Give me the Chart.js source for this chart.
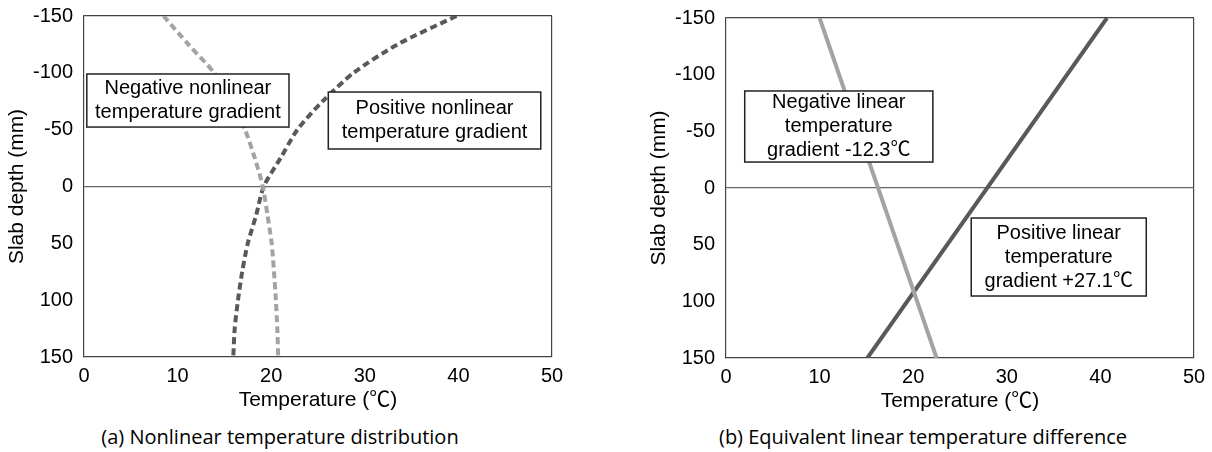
<!DOCTYPE html>
<html>
<head>
<meta charset="utf-8">
<script src="https://cdn.jsdelivr.net/npm/chart.js@4/dist/chart.umd.min.js"></script>
<style>
  body { margin: 0; background: #fff; }
  #wrap { position: relative; width: 1212px; height: 452px; overflow: hidden; }
  #leftBox { position: absolute; left: 0; top: 0; width: 600px; height: 420px; }
  #rightBox { position: absolute; left: 600px; top: 0; width: 612px; height: 421px; }
  .caption { position: absolute; top: 423px; font: 20px 'Open Sans', 'Noto Sans', sans-serif; color: #000; white-space: nowrap; transform: translateX(-50%); }
</style>
</head>
<body>
<div id="wrap">
  <div id="leftBox"><canvas id="nonlinearChart"></canvas></div>
  <div id="rightBox"><canvas id="linearChart"></canvas></div>
  <div class="caption" style="left:280px">(a) Nonlinear temperature distribution</div>
  <div class="caption" style="left:923px">(b) Equivalent linear temperature difference</div>
</div>
<script>
// Slab depth (mm) and temperature (°C)
const depthLevels = [-150, -125, -100, -75, -50, -25, 0, 25, 50, 75, 100, 125, 150];
const negNonlinearTemp = [8.5, 11.15, 13.9, 15.7, 17.2, 18.25, 19.1, 19.6, 20.05, 20.3, 20.5, 20.65, 20.75];
const posNonlinearTemp = [39.8, 33.5, 28.8, 25.5, 22.8, 21.0, 19.2, 18.4, 17.5, 16.9, 16.45, 16.1, 15.95];

const linearDepth = [-150, 150];
const negLinearTemp = [10.0, 22.5];
const posLinearTemp = [40.7, 15.1];

const tempTicks = [0, 10, 20, 30, 40, 50];
const depthTicks = [-150, -100, -50, 0, 50, 100, 150];

const LIGHT = '#a3a3a3';
const DARK = '#595959';
const FONT = "'Liberation Sans', Arial, 'Noto Sans CJK JP', sans-serif";

function toPoints(temps, depths) {
    return temps.map(function(t, i) { return { x: t, y: depths[i] }; });
}

// text boxes placed in data units
const boxPlugin = {
    id: 'textBoxes',
    afterDatasetsDraw: function(chart, args, opts) {
        const ctx = chart.ctx;
        const xs = chart.scales.x, ys = chart.scales.y;
        (opts.boxes || []).forEach(function(b) {
            const x0 = xs.getPixelForValue(b.x0), x1 = xs.getPixelForValue(b.x1);
            const y0 = ys.getPixelForValue(b.y0), y1 = ys.getPixelForValue(b.y1);
            ctx.save();
            ctx.fillStyle = '#fff';
            ctx.fillRect(x0, y0, x1 - x0, y1 - y0);
            ctx.strokeStyle = '#222';
            ctx.lineWidth = 1.5;
            ctx.strokeRect(x0, y0, x1 - x0, y1 - y0);
            ctx.fillStyle = '#000';
            ctx.font = '20px ' + FONT;
            ctx.textAlign = 'center';
            ctx.textBaseline = 'middle';
            const cx = (x0 + x1) / 2, cy = (y0 + y1) / 2;
            const lh = 24;
            b.lines.forEach(function(line, i) {
                ctx.fillText(line, cx, cy + (i - (b.lines.length - 1) / 2) * lh);
            });
            ctx.restore();
        });
    }
};

function makeOptions(yWidth, yTitlePad, boxes) {
    return {
        responsive: true,
        maintainAspectRatio: false,
        animation: false,
        layout: { padding: { top: 0, right: 0, left: 0, bottom: 0 } },
        plugins: {
            legend: { display: false },
            tooltip: { enabled: false },
            textBoxes: { boxes: boxes }
        },
        scales: {
            x: {
                type: 'linear',
                min: 0, max: 50,
                afterBuildTicks: function(s) { s.ticks = tempTicks.map(function(v) { return { value: v }; }); },
                afterFit: function(s) { s.height = 63; s.paddingLeft = 0; s.paddingRight = 0; },
                ticks: { color: '#000', padding: 7, font: { family: FONT, size: 20 } },
                grid: {
                    drawTicks: false,
                    color: function(c) { return c.tick && c.tick.value === 50 ? '#444' : 'transparent'; },
                    lineWidth: 1.2
                },
                border: { display: true, color: '#444', width: 1.2 },
                title: { display: true, text: 'Temperature (℃)', color: '#000', font: { family: FONT, size: 21 }, padding: { top: 0, bottom: 7 } }
            },
            y: {
                type: 'linear',
                reverse: true,
                min: -150, max: 150,
                afterBuildTicks: function(s) { s.ticks = depthTicks.map(function(v) { return { value: v }; }); },
                afterFit: function(s) { s.width = yWidth; s.paddingTop = 0; s.paddingBottom = 0; },
                ticks: { color: '#000', padding: 11, font: { family: FONT, size: 20 } },
                grid: {
                    drawTicks: false,
                    color: function(c) {
                        if (!c.tick) return 'transparent';
                        if (c.tick.value === 0) return '#666';
                        if (c.tick.value === -150) return '#444';
                        return 'transparent';
                    },
                    lineWidth: 1.2
                },
                border: { display: true, color: '#444', width: 1.2 },
                title: { display: true, text: 'Slab depth (mm)', color: '#000', font: { family: FONT, size: 21 }, padding: { top: yTitlePad, bottom: 0 } }
            }
        }
    };
}

document.addEventListener('DOMContentLoaded', function() {
    const leftOpts = makeOptions(84, 5, [
        { x0: 0.3, x1: 21.9, y0: -99, y1: -52.3, lines: ['Negative nonlinear', 'temperature gradient'] },
        { x0: 26.1, x1: 48.8, y0: -83.1, y1: -33.0, lines: ['Positive nonlinear', 'temperature gradient'] }
    ]);
    leftOpts.layout.padding = { top: 16, right: 48, left: 0, bottom: 0 };

    new Chart(document.getElementById('nonlinearChart'), {
        type: 'scatter',
        data: {
            datasets: [{
                label: 'Negative nonlinear',
                data: toPoints(negNonlinearTemp, depthLevels),
                showLine: true,
                borderColor: LIGHT,
                borderWidth: 4,
                borderDash: [7, 4],
                pointRadius: 0,
                tension: 0.25
            }, {
                label: 'Positive nonlinear',
                data: toPoints(posNonlinearTemp, depthLevels),
                showLine: true,
                borderColor: DARK,
                borderWidth: 4,
                borderDash: [7, 4],
                pointRadius: 0,
                tension: 0.25
            }]
        },
        options: leftOpts,
        plugins: [boxPlugin]
    });

    const rightOpts = makeOptions(126, 47, [
        { x0: 2.0, x1: 22.1, y0: -85.6, y1: -22.9, lines: ['Negative linear', 'temperature', 'gradient -12.3℃'] },
        { x0: 26.2, x1: 44.9, y0: 26.5, y1: 95.3, lines: ['Positive linear', 'temperature', 'gradient +27.1℃'] }
    ]);
    rightOpts.layout.padding = { top: 18, right: 18, left: 0, bottom: 0 };

    new Chart(document.getElementById('linearChart'), {
        type: 'scatter',
        data: {
            datasets: [{
                label: 'Negative linear',
                data: toPoints(negLinearTemp, linearDepth),
                showLine: true,
                borderColor: LIGHT,
                borderWidth: 4,
                pointRadius: 0
            }, {
                label: 'Positive linear',
                data: toPoints(posLinearTemp, linearDepth),
                showLine: true,
                borderColor: DARK,
                borderWidth: 4,
                pointRadius: 0
            }]
        },
        options: rightOpts,
        plugins: [boxPlugin]
    });
});
</script>
</body>
</html>
